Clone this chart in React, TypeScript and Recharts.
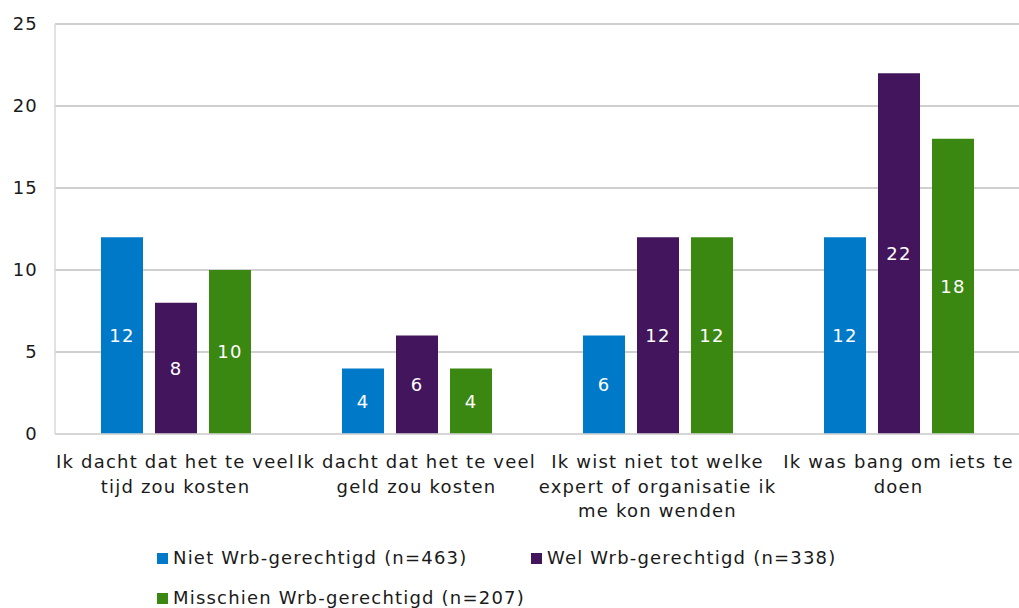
import React from 'react'
import {
  BarChart,
  Bar,
  XAxis,
  YAxis,
  CartesianGrid,
  Legend,
  LabelList,
} from 'recharts'

const categories = [
  'Ik dacht dat het te veel tijd zou kosten',
  'Ik dacht dat het te veel geld zou kosten',
  'Ik wist niet tot welke expert of organisatie ik me kon wenden',
  'Ik was bang om iets te doen',
]

const tickLabels = [
  ['Ik dacht dat het te veel', 'tijd zou kosten'],
  ['Ik dacht dat het te veel', 'geld zou kosten'],
  ['Ik wist niet tot welke', 'expert of organisatie ik', 'me kon wenden'],
  ['Ik was bang om iets te', 'doen'],
]

const nietValues = [12, 4, 6, 12]
const welValues = [8, 6, 12, 22]
const misschienValues = [10, 4, 12, 18]

const yTicks = [0, 5, 10, 15, 20, 25]

const series = [
  { key: 'niet', name: 'Niet Wrb-gerechtigd (n=463)', color: '#0079C8' },
  { key: 'wel', name: 'Wel Wrb-gerechtigd (n=338)', color: '#43155C' },
  { key: 'misschien', name: 'Misschien Wrb-gerechtigd (n=207)', color: '#3A8712' },
]

const data = categories.map((name, i) => ({
  name,
  niet: nietValues[i],
  wel: welValues[i],
  misschien: misschienValues[i],
}))

const FONT = '"DejaVu Sans", Verdana, sans-serif'
const LS = 1.2

function CategoryTick({ x, y, index }: any) {
  const lines = tickLabels[index] || []
  return (
    <text
      x={x}
      y={y}
      textAnchor="middle"
      fill="#1a1a1a"
      fontSize={18}
      letterSpacing={LS}
      fontFamily={FONT}
    >
      {lines.map((line, i) => (
        <tspan key={i} x={x} dy={i === 0 ? 34 : 24.5}>
          {line}
        </tspan>
      ))}
    </text>
  )
}

function LegendContent() {
  const item = (s: (typeof series)[number]) => (
    <div style={{ display: 'flex', alignItems: 'center', whiteSpace: 'nowrap' }}>
      <span
        style={{
          width: 11,
          height: 11,
          background: s.color,
          display: 'inline-block',
          marginRight: 5,
        }}
      />
      <span>{s.name}</span>
    </div>
  )
  return (
    <div
      style={{
        position: 'relative',
        width: 1019,
        height: 74,
        fontFamily: FONT,
        fontSize: 18,
        letterSpacing: LS,
        lineHeight: '22px',
        color: '#1a1a1a',
      }}
    >
      <div style={{ position: 'absolute', left: 157, top: 13 }}>{item(series[0])}</div>
      <div style={{ position: 'absolute', left: 531, top: 13 }}>{item(series[1])}</div>
      <div style={{ position: 'absolute', left: 157, top: 53 }}>{item(series[2])}</div>
    </div>
  )
}

export default function App() {
  return (
    <div style={{ position: 'absolute', left: 0, top: 0, background: '#fff' }}>
      <BarChart
        width={1019}
        height={608}
        data={data}
        margin={{ top: 24, right: 0, bottom: 0, left: 0 }}
        barSize={42}
        barGap={12}
      >
        <CartesianGrid vertical={false} stroke="#BFBFBF" strokeWidth={1.3} />
        <XAxis
          dataKey="name"
          height={100}
          interval={0}
          tickLine={false}
          tickSize={0}
          tickMargin={0}
          axisLine={{ stroke: '#D9D9D9', strokeWidth: 1.5 }}
          tick={<CategoryTick />}
        />
        <YAxis
          width={55}
          domain={[0, 25]}
          ticks={yTicks}
          tickLine={false}
          tickSize={0}
          tickMargin={17}
          axisLine={{ stroke: '#D9D9D9', strokeWidth: 1.5 }}
          tick={{ fill: '#1a1a1a', fontSize: 18, fontFamily: FONT, letterSpacing: LS }}
        />
        <Legend verticalAlign="bottom" height={74} content={<LegendContent />} />
        {series.map((s) => (
          <Bar
            key={s.key}
            dataKey={s.key}
            name={s.name}
            fill={s.color}
            isAnimationActive={false}
          >
            <LabelList
              dataKey={s.key}
              position="center"
              fill="#ffffff"
              fontSize={18}
              letterSpacing={LS}
              fontFamily={FONT}
            />
          </Bar>
        ))}
      </BarChart>
    </div>
  )
}
